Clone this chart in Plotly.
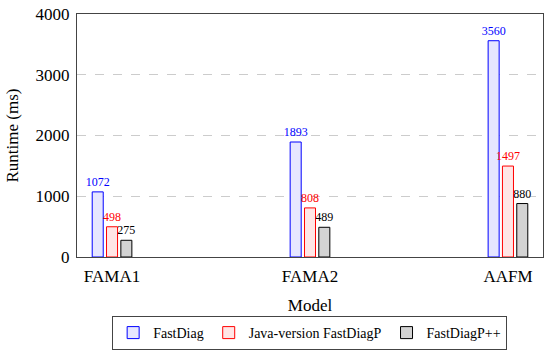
import plotly.graph_objects as go

models = ["FAMA1", "FAMA2", "AAFM"]
fastdiag = [1072, 1893, 3560]
java_fastdiagp = [498, 808, 1497]
fastdiagpp = [275, 489, 880]
y_ticks = [0, 1000, 2000, 3000, 4000]

FONT = "Liberation Serif"

series = [
    ("FastDiag", fastdiag, "#0000ff", "#e6e6ff", "#0000ff"),
    ("Java-version FastDiagP", java_fastdiagp, "#ff0000", "#ffe6e6", "#ff0000"),
    ("FastDiagP++", fastdiagpp, "#000000", "#d3d3d3", "#000000"),
]

fig = go.Figure()
for name, vals, line, fill, tcol in series:
    fig.add_trace(go.Bar(
        x=models, y=vals, name=name,
        marker=dict(color=fill, line=dict(color=line, width=1)),
        text=[str(v) for v in vals], textposition="outside",
        textfont=dict(family=FONT, size=12, color=tcol),
        constraintext="none", cliponaxis=False,
    ))

fig.update_layout(
    width=550, height=352,
    margin=dict(l=77, r=7, t=14, b=95),
    paper_bgcolor="white", plot_bgcolor="white",
    barmode="group", bargap=0.783, bargroupgap=0.23,
    font=dict(family=FONT, size=17, color="#000000"),
    showlegend=True,
    legend=dict(orientation="h", xref="container", yref="container",
                x=0.563, xanchor="center", y=1 - 316 / 352, yanchor="top",
                bordercolor="#444444", borderwidth=1, font=dict(family=FONT, size=14),
                itemwidth=30, tracegroupgap=0),
    xaxis=dict(range=[-0.177, 2.177], showline=True, linecolor="#444444", linewidth=1,
               mirror=True, showgrid=False, ticks="", automargin=False,
               ticklabelstandoff=4,
               title=dict(text="Model", standoff=13, font=dict(family=FONT, size=17)),
               tickfont=dict(family=FONT, size=17)),
    yaxis=dict(range=[0, 4000], tickvals=y_ticks, showline=True, linecolor="#444444",
               linewidth=1, mirror=True, showgrid=True, gridcolor="#cccccc",
               griddash="dash", gridwidth=1, zeroline=False, ticks="", automargin=False,
               ticklabelstandoff=3,
               title=dict(text="Runtime (ms)", standoff=12, font=dict(family=FONT, size=17)),
               tickfont=dict(family=FONT, size=17)),
)

fig.write_html("out.html", config={"displayModeBar": False},
               post_script="document.body.style.margin='0';")
